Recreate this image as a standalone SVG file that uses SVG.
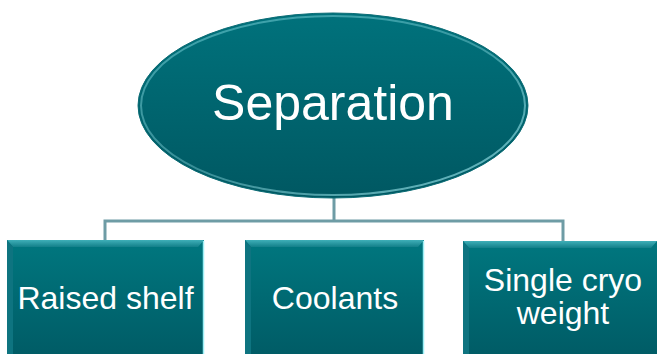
<svg xmlns="http://www.w3.org/2000/svg" width="657" height="354" viewBox="0 0 657 354">
  <defs>
    <linearGradient id="fillV" x1="0" y1="0" x2="0" y2="1">
      <stop offset="0" stop-color="#00777F"/>
      <stop offset="1" stop-color="#005C66"/>
    </linearGradient>
    <linearGradient id="ellFill" x1="0" y1="0" x2="0" y2="1">
      <stop offset="0" stop-color="#00727C"/>
      <stop offset="1" stop-color="#005862"/>
    </linearGradient>
    <linearGradient id="rimLight" x1="0" y1="0" x2="1" y2="1">
      <stop offset="0" stop-color="#7FD8DF" stop-opacity="0.5"/>
      <stop offset="0.5" stop-color="#9FEAF0" stop-opacity="0.35"/>
      <stop offset="1" stop-color="#9FEAF0" stop-opacity="0.7"/>
    </linearGradient>
    <linearGradient id="topBevel" x1="0" y1="0" x2="0" y2="1">
      <stop offset="0" stop-color="#3FAFB8"/>
      <stop offset="1" stop-color="#137F89"/>
    </linearGradient>
    <style>
      .conn { fill: none; stroke: #6E9CA5; stroke-width: 3; }
      .label { fill: #FFFFFF; font-family: "Liberation Sans", Arial, sans-serif; text-anchor: middle; }
      .box { fill: url(#fillV); }
      .bevelTop { fill: url(#topBevel); }
      .bevelSide { fill: #0E7480; }
      .edge { fill: none; stroke: #9CEFF5; stroke-width: 1.5; }
    </style>
  </defs>

  <!-- connectors -->
  <g id="connectors">
    <path class="conn" d="M334 196 V221 M105 240 V221 H563 V241"/>
  </g>

  <!-- root ellipse with a thin glossy rim -->
  <g id="node-separation">
    <ellipse cx="333" cy="105.5" rx="195" ry="92.5" fill="url(#ellFill)" stroke="#0B6C75" stroke-width="1"/>
    <ellipse cx="333" cy="105.5" rx="192" ry="89.5" fill="none" stroke="url(#rimLight)" stroke-width="2"/>
    <text class="label" x="333" y="120" font-size="50">Separation</text>
  </g>

  <!-- child boxes -->
  <g id="node-raised-shelf">
    <rect class="box" x="7" y="240" width="197" height="114"/>
    <polygon class="bevelTop" points="7,240 204,240 198,247 13,247"/>
    <polygon class="bevelSide" points="7,240 13,247 13,354 7,354"/>
    <line class="edge" x1="203.5" y1="241" x2="203.5" y2="354"/>
    <text class="label" x="105.5" y="309" font-size="32">Raised shelf</text>
  </g>

  <g id="node-coolants">
    <rect class="box" x="245" y="240" width="179" height="114"/>
    <polygon class="bevelTop" points="245,240 424,240 418,247 251,247"/>
    <polygon class="bevelSide" points="245,240 251,247 251,354 245,354"/>
    <line class="edge" x1="423.5" y1="241" x2="423.5" y2="354"/>
    <text class="label" x="335" y="309" font-size="32">Coolants</text>
  </g>

  <g id="node-single-cryo">
    <rect class="box" x="463" y="241" width="194" height="113"/>
    <polygon class="bevelTop" points="463,241 657,241 651,248 469,248"/>
    <polygon class="bevelSide" points="463,241 469,248 469,354 463,354"/>
    <text class="label" x="563" y="291" font-size="32">Single cryo</text>
    <text class="label" x="563" y="324" font-size="32">weight</text>
  </g>
</svg>
